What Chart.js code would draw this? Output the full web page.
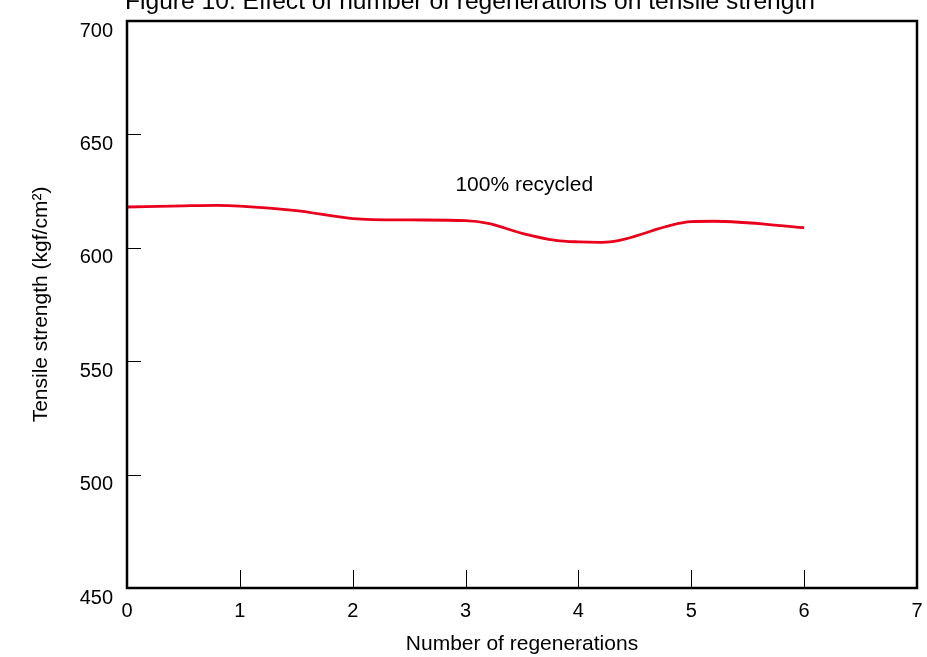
<!DOCTYPE html>
<html>
<head>
<meta charset="utf-8">
<script src="https://cdn.jsdelivr.net/npm/chart.js@4.4.0/dist/chart.umd.min.js"></script>
<style>
  html, body { margin: 0; padding: 0; background: #fff; }
  #wrap { width: 927px; height: 657px; }
</style>
</head>
<body>
<div id="wrap"><canvas id="c" width="927" height="657"></canvas></div>
<script>
// Tensile strength after repeated regeneration (100% recycled material)
const regenerations = [0, 0.5, 0.8, 1, 1.5, 2, 2.5, 3, 3.2, 3.5, 3.8, 4, 4.2, 5, 5.2, 6];
const tensileStrength = [618, 618.5, 618.7, 618.4, 616.4, 612.9, 612.3, 612, 610.8, 606.4, 603.3, 602.6, 602.4, 611.5, 611.7, 608.9];
const xTicks = [0, 1, 2, 3, 4, 5, 6, 7];
const yTicks = [450, 500, 550, 600, 650, 700];
const titleText = 'Figure 10: Effect of number of regenerations on tensile strength';
const seriesLabel = '100% recycled';

const FONT = "'Liberation Sans', Arial, sans-serif";

const framePlugin = {
  id: 'frame',
  afterDraw(chart) {
    const { ctx, chartArea: a, scales } = chart;
    ctx.save();
    // inward tick marks
    ctx.strokeStyle = '#000';
    ctx.lineWidth = 1;
    xTicks.slice(1, -1).forEach(v => {
      const px = Math.round(scales.x.getPixelForValue(v)) + 0.5;
      ctx.beginPath();
      ctx.moveTo(px, a.bottom);
      ctx.lineTo(px, a.bottom - 18);
      ctx.stroke();
    });
    yTicks.slice(1, -1).forEach(v => {
      const py = Math.round(scales.y.getPixelForValue(v)) + 0.5;
      ctx.beginPath();
      ctx.moveTo(a.left, py);
      ctx.lineTo(a.left + 14, py);
      ctx.stroke();
    });
    // plot frame
    ctx.lineWidth = 2.5;
    ctx.strokeRect(a.left, a.top, a.right - a.left, a.bottom - a.top);
    // series annotation
    ctx.fillStyle = '#000';
    ctx.font = '21px ' + FONT;
    ctx.textAlign = 'center';
    ctx.textBaseline = 'middle';
    ctx.fillText(seriesLabel, scales.x.getPixelForValue(3.52), scales.y.getPixelForValue(627.4));
    // figure caption, running off the top edge
    ctx.font = '24.6px ' + FONT;
    ctx.textAlign = 'left';
    ctx.textBaseline = 'alphabetic';
    ctx.fillText(titleText, 125, 9);
    ctx.restore();
  }
};

new Chart(document.getElementById('c'), {
  type: 'line',
  data: {
    datasets: [{
      data: regenerations.map((x, i) => ({ x, y: tensileStrength[i] })),
      borderColor: '#e8001c',
      borderWidth: 2.8,
      pointRadius: 0,
      fill: false,
      cubicInterpolationMode: 'monotone'
    }]
  },
  options: {
    responsive: false,
    animation: false,
    devicePixelRatio: 1,
    layout: { padding: { top: 21, right: 10, left: 28, bottom: 0 } },
    plugins: { legend: { display: false }, tooltip: { enabled: false }, title: { display: false } },
    scales: {
      x: {
        type: 'linear',
        min: 0, max: 7,
        afterFit(s) { s.height = 69; },
        afterBuildTicks(s) { s.ticks = xTicks.map(v => ({ value: v })); },
        grid: { display: false },
        border: { display: false },
        ticks: { color: '#000', font: { family: FONT, size: 20 }, padding: 3, maxRotation: 0 },
        title: { display: true, text: 'Number of regenerations', color: '#000', font: { family: FONT, size: 21 }, padding: { top: 7, bottom: 0 } }
      },
      y: {
        type: 'linear',
        min: 450, max: 700,
        afterFit(s) { s.width = 99; },
        afterBuildTicks(s) { s.ticks = yTicks.map(v => ({ value: v })); },
        grid: { display: false },
        border: { display: false },
        ticks: { color: '#000', font: { family: FONT, size: 20 }, padding: 6, labelOffset: 10 },
        title: { display: true, text: 'Tensile strength (kgf/cm²)', color: '#000', font: { family: FONT, size: 21 }, padding: { top: 1, bottom: 0 } }
      }
    }
  },
  plugins: [framePlugin]
});
</script>
</body>
</html>
